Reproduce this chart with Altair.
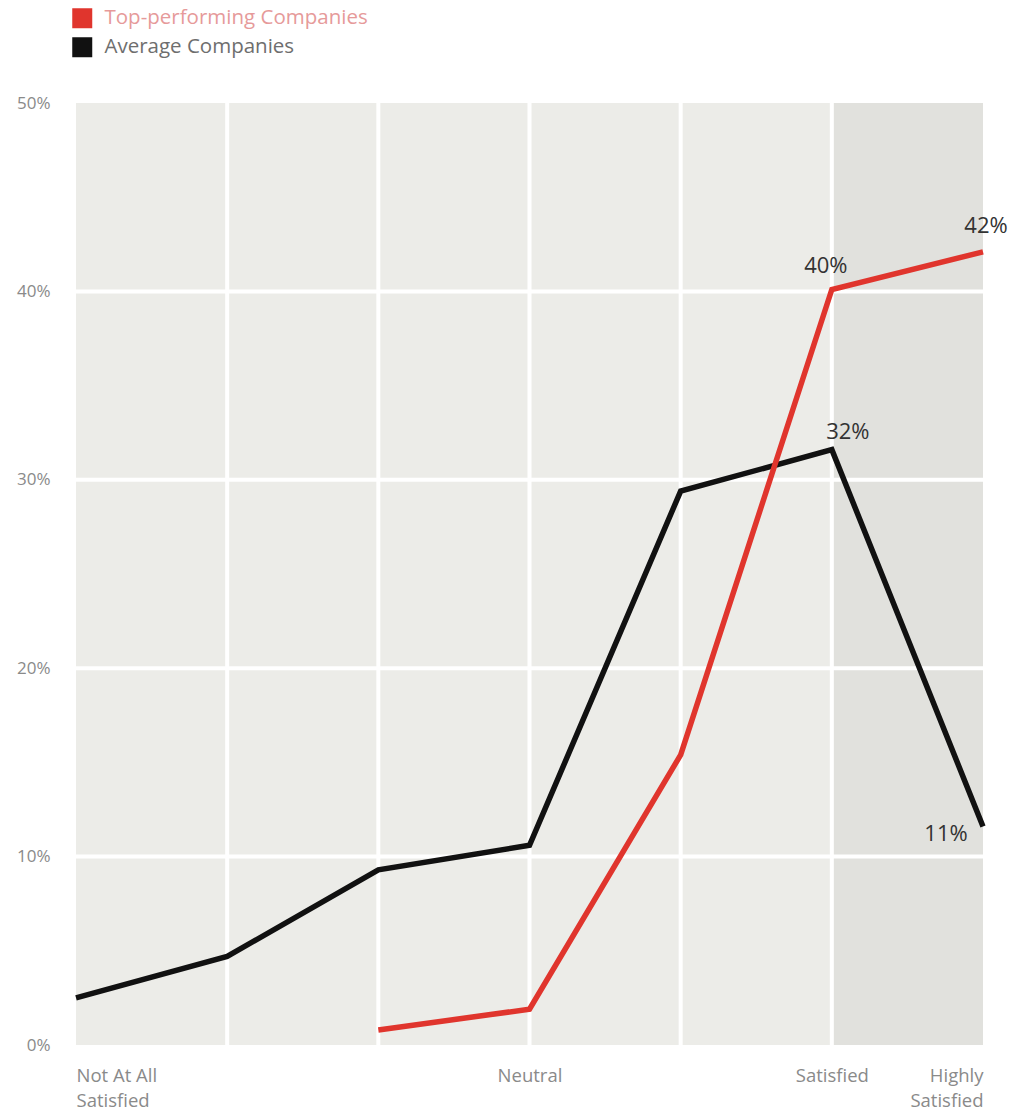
import altair as alt
import pandas as pd

# ---- data ----
cat_index = [0, 1, 2, 3, 4, 5, 6]
average_vals = [2.5, 4.7, 9.3, 10.6, 29.4, 31.6, 11.6]
average_labels = ["", "", "", "", "", "32%", "11%"]
top_index = [2, 3, 4, 5, 6]
top_vals = [0.8, 1.9, 15.4, 40.1, 42.1]
top_labels = ["", "", "", "40%", "42%"]
y_ticks = [0, 10, 20, 30, 40, 50]
grid_y = [10, 20, 30, 40]
grid_x = [1, 2, 3, 4, 5]
highlight_band = [(5, 6)]

TOP = "Top-performing Companies"
AVG = "Average Companies"
RED = "#e0352d"
BLACK = "#111111"
FONT = "Open Sans"

avg_df = pd.DataFrame({"x": cat_index, "y": average_vals, "lbl": average_labels, "series": AVG})
top_df = pd.DataFrame({"x": top_index, "y": top_vals, "lbl": top_labels, "series": TOP})
gy_df = pd.DataFrame({"y": grid_y})
gx_df = pd.DataFrame({"x": grid_x})
band_df = pd.DataFrame({"x": [b[0] for b in highlight_band], "x2": [b[1] for b in highlight_band],
                        "y": [0], "y2": [50]})

label_expr = ("datum.value == 0 ? ['Not At All', 'Satisfied'] : "
              "datum.value == 3 ? 'Neutral' : "
              "datum.value == 5 ? 'Satisfied' : "
              "datum.value == 6 ? ['Highly', 'Satisfied'] : ''")

x_scale = alt.Scale(domain=[0, 6], nice=False, zero=False)
y_scale = alt.Scale(domain=[0, 50], nice=False)

x_axis = alt.Axis(values=cat_index, labelExpr=label_expr, grid=False, domain=False, ticks=False,
                  title=None, labelFont=FONT, labelFontSize=18.5, labelColor="#8a8a8a",
                  labelPadding=21, labelLineHeight=25, labelBaseline="top",
                  labelAlign={"condition": [{"test": "datum.value == 0", "value": "left"},
                                            {"test": "datum.value == 6", "value": "right"}],
                              "value": "center"})
y_axis = alt.Axis(values=y_ticks, labelExpr="datum.value + '%'", grid=False, domain=False,
                  ticks=False, title=None, labelFont=FONT, labelFontSize=17,
                  labelColor="#8a8a8a", labelPadding=26)

X = alt.X("x:Q", scale=x_scale, axis=x_axis)
Y = alt.Y("y:Q", scale=y_scale, axis=y_axis)

band = alt.Chart(band_df).mark_rect(color="#e1e1dd").encode(
    x=alt.X("x:Q", scale=x_scale, axis=x_axis), x2="x2:Q",
    y=alt.Y("y:Q", scale=y_scale, axis=y_axis), y2="y2:Q")

hgrid = alt.Chart(gy_df).mark_rule(color="white", strokeWidth=4).encode(
    y=alt.Y("y:Q", scale=y_scale))
vgrid = alt.Chart(gx_df).mark_rule(color="white", strokeWidth=4).encode(
    x=alt.X("x:Q", scale=x_scale))

def legend(y_off, color, label_color):
    return alt.Legend(title=None, orient="none", legendX=-4, legendY=y_off,
                      symbolType="square", symbolSize=400,
                      symbolFillColor=color, symbolStrokeWidth=0,
                      labelFont=FONT, labelFontSize=20.5, labelColor=label_color,
                      labelOffset=12, labelLimit=0, padding=0)

avg_line = alt.Chart(avg_df).mark_line(strokeWidth=5.5, strokeJoin="miter", strokeCap="butt").encode(
    x=X, y=Y,
    color=alt.Color("series:N", scale=alt.Scale(domain=[AVG], range=[BLACK]),
                    legend=legend(-66, BLACK, "#6e6e6e")))
top_line = alt.Chart(top_df).mark_line(strokeWidth=5.5, strokeJoin="miter", strokeCap="butt").encode(
    x=X, y=Y,
    color=alt.Color("series:N", scale=alt.Scale(domain=[TOP], range=[RED]),
                    legend=legend(-95, RED, "#e69a9a")))

def value_label(df, idx, dx, dy):
    return alt.Chart(df).transform_filter(f"datum.x == {idx}").mark_text(
        font=FONT, fontSize=22, color="#333333", dx=dx, dy=dy).encode(
        x=alt.X("x:Q", scale=x_scale), y=alt.Y("y:Q", scale=y_scale), text="lbl:N")

labels = [
    value_label(top_df, 5, -6, -24),
    value_label(top_df, 6, 3, -26),
    value_label(avg_df, 5, 16, -18),
    value_label(avg_df, 6, -37, 8),
]

chart = alt.layer(band, hgrid, vgrid, avg_line, top_line, *labels).resolve_scale(
    color="independent"
).properties(
    width=907, height=942,
    autosize=alt.AutoSizeParams(type="none"),
    padding={"left": 76, "top": 103, "right": 41, "bottom": 71},
    background="white",
).configure_view(fill="#ecece8", stroke=None)

chart.save("out.html", embed_options={"renderer": "svg", "actions": False})
